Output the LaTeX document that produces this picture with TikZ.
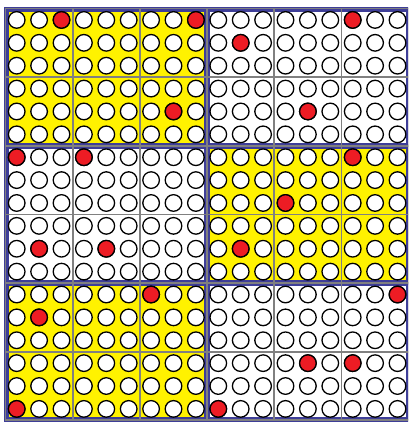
\documentclass[tikz,border=0pt]{standalone}
\definecolor{padyellow}{RGB}{255,242,0}
\definecolor{hitred}{RGB}{237,28,36}
\definecolor{frameblue}{RGB}{62,62,152}
\definecolor{gridgray}{RGB}{128,128,128}

\begin{document}
\begin{tikzpicture}[
    x=22.4pt, y=-22.88pt,
    hole/.style={draw=black, line width=1.3pt, fill=white},
    hit/.style={hole, fill=hitred},
    blockline/.style={draw=frameblue, line width=4.5pt},
    subline/.style={draw=gridgray, line width=1.8pt}
]
% picture frame, cut as in the reference
\useasboundingbox ([shift={(-5.5pt,8.5pt)}]0,0) rectangle ++(408pt,-423pt);
\clip ([shift={(-5.5pt,8.5pt)}]0,0) rectangle ++(408pt,-423pt);
\fill[white] ([shift={(-5.5pt,8.5pt)}]0,0) rectangle ++(408pt,-423pt);
% yellow blocks
\foreach \bx/\by in {0/0, 9/6, 0/12}
    \fill[padyellow] (\bx,\by) rectangle ++(9,6);
% block frames
\foreach \bx in {0,9}
    \foreach \by in {0,6,12}
        \draw[blockline] (\bx+0.036,\by+0.035) rectangle (\bx+8.964,\by+5.965);
% 3x3 grid lines
\foreach \k in {0,3,...,18} {
    \draw[subline] (\k,0) -- (\k,18);
    \draw[subline] (0,\k) -- (18,\k);
}
% holes
\foreach \c in {0,...,17}
    \foreach \r in {0,...,17}
        \draw[hole] (\c+0.5,\r+0.5) circle[radius=8.3pt];
% red holes
\foreach \c/\r in {2/0, 8/0, 7/4, 15/0, 10/1, 13/4,
                   0/6, 3/6, 1/10, 4/10, 15/6, 12/8, 10/10,
                   6/12, 1/13, 0/17, 17/12, 13/15, 15/15, 9/17}
    \draw[hit] (\c+0.5,\r+0.5) circle[radius=8.3pt];
\end{tikzpicture}
\end{document}
